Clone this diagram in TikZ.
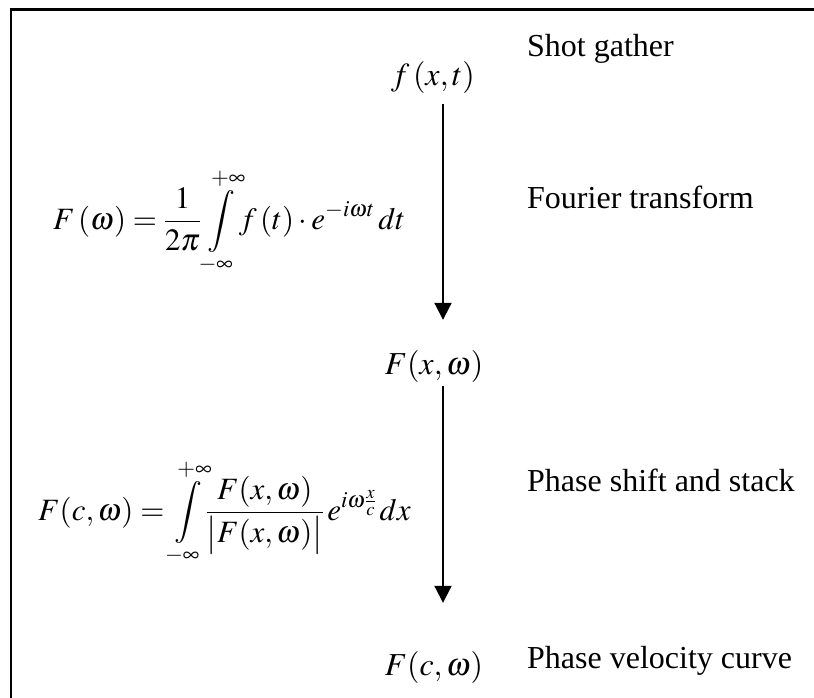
\documentclass[tikz,border=0pt]{standalone}
\usepackage{amsmath}
\usepackage{mathptmx}
\usepackage{fontspec}
\setmainfont{Liberation Serif}
\usetikzlibrary{arrows.meta}
\begin{document}
\begin{tikzpicture}[x=1pt,y=-1pt,
  lbl/.style={anchor=base west,inner sep=0pt,font=\fontsize{32}{38}\selectfont},
  mth/.style={anchor=base,inner sep=0pt,font=\fontsize{32}{38}\selectfont},
  frm/.style={anchor=base west,inner sep=0pt,font=\fontsize{31}{36}\selectfont},
  arr/.style={line width=2pt,-{Triangle[width=17pt,length=17pt]}}]
\useasboundingbox (0,0) rectangle (814,697);
\draw[line width=2.2pt] (11,720) -- (11,9.5) -- (840,9.5);
% labels
\node[lbl] (l1) at (527,56) {Shot gather};
\node[lbl] (l2) at (527,208) {Fourier transform};
\node[lbl] (l3) at (527,491) {Phase shift and stack};
\node[lbl] (l4) at (527,668) {Phase velocity curve};
% flow nodes
\node[mth] (fxt) at (433,85) {$f\,(x,t)$};
\node[mth] (Fxw) at (434,374) {$F(x,\omega)$};
\node[mth] (Fcw) at (434,675) {$F(c,\omega)$};
% formulas
\node[frm] (eq1) at (53,229) {$\displaystyle F\,(\omega)=\frac{1}{2\pi}\int\limits_{-\infty}^{+\infty}\!f\,(t)\cdot e^{-i\omega t}\,dt$};
\node[frm] (eq2) at (38,520) {$\displaystyle F(c,\omega)=\int\limits_{-\infty}^{+\infty}\!\frac{F(x,\omega)}{\bigl|F(x,\omega)\bigr|}\,e^{i\omega\frac{x}{c}}\,dx$};
% arrows
\coordinate (ax) at (443,0);
\draw[arr,shorten <=11pt,shorten >=30pt] (fxt.south -| ax) -- (Fxw.north -| ax);
\draw[arr,shorten <=4pt,shorten >=48pt] (Fxw.south -| ax) -- (Fcw.north -| ax);
\end{tikzpicture}
\end{document}
